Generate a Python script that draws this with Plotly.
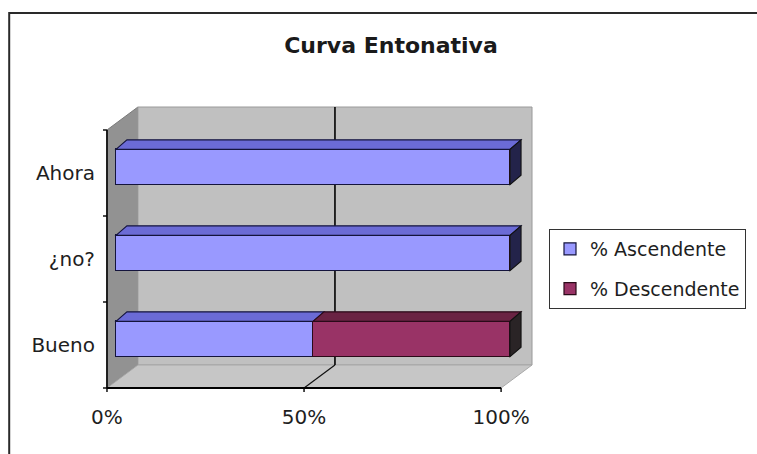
import plotly.graph_objects as go

# ---------------- data ----------------
categories = ["Bueno", "¿no?", "Ahora"]
ascendente = [50, 100, 100]
descendente = [50, 0, 0]
series_names = ["% Ascendente", "% Descendente"]
x_tickvals = [0, 50, 100]
x_ticktext = ["0%", "50%", "100%"]
title_text = "Curva Entonativa"

# ---------------- layout geometry (pixels) ----------------
W, H = 757, 454
L, R, T, B = 100, 540, 100, 395          # plot area
PXX = 3.95                               # px per percent
PXC = 86.0                               # px per category
BAR_X0 = 116                             # pixel of 0% on bar plane
BAR_C0 = 339                             # pixel of first category centre on bar plane
BAR_W = 0.41                             # bar thickness (category units)

# depth offsets (pixels, relative to bar front plane)
FRONT = (-9, 6)      # front plane (axes)
BACK = (22, -17)     # back wall
DEPTH = (11, -9.5)   # bar depth

def off(p):
    return p[0] / PXX, -p[1] / PXC

FX, FY = off(FRONT)
BX, BY = off(BACK)
DX, DY = off(DEPTH)

xr = [-(BAR_X0 - L) / PXX, (R - BAR_X0) / PXX]
yr = [-(B - BAR_C0) / PXC, (BAR_C0 - T) / PXC]

n = len(categories)
ylo, yhi = -0.5, n - 0.5

# normalise to percent
tot = [a + d for a, d in zip(ascendente, descendente)]
asc_p = [a / t * 100 for a, t in zip(ascendente, tot)]
des_p = [d / t * 100 for d, t in zip(descendente, tot)]

fills = {
    "asc": dict(front="#9999FF", top="#6B6BD6", end="#23234A", line="#14143C"),
    "des": dict(front="#993366", top="#6A2343", end="#2A2426", line="#2A0A18"),
}

fig = go.Figure()
fig.add_trace(go.Bar(
    y=categories, x=asc_p, orientation="h", name=series_names[0],
    marker=dict(color=fills["asc"]["front"], line=dict(color=fills["asc"]["line"], width=1.2)),
    width=BAR_W, legendgroup="a"))
fig.add_trace(go.Bar(
    y=categories, x=des_p, orientation="h", name=series_names[1],
    marker=dict(color=fills["des"]["front"], line=dict(color=fills["des"]["line"], width=1.2)),
    width=BAR_W, legendgroup="d"))

shapes = []

def poly(pts, fill, line="rgba(0,0,0,0)", lw=0, layer="below"):
    d = "M" + " L".join(f"{x:.4f},{y:.4f}" for x, y in pts) + " Z"
    shapes.append(dict(type="path", path=d, xref="x", yref="y", fillcolor=fill,
                       line=dict(color=line, width=lw), layer=layer))

def seg(p0, p1, color, lw, dash="solid", layer="below"):
    shapes.append(dict(type="line", xref="x", yref="y", x0=p0[0], y0=p0[1],
                       x1=p1[0], y1=p1[1], line=dict(color=color, width=lw, dash=dash),
                       layer=layer))

def F(x, y):
    return (x + FX, y + FY)

def Bk(x, y):
    return (x + BX, y + BY)

# walls
poly([F(0, ylo), F(0, yhi), Bk(0, yhi), Bk(0, ylo)], "#929292", "#7a7a7a", 1)   # left wall
poly([Bk(0, ylo), Bk(100, ylo), Bk(100, yhi), Bk(0, yhi)], "#C0C0C0", "#9a9a9a", 1)  # back wall
poly([F(0, ylo), F(100, ylo), Bk(100, ylo), Bk(0, ylo)], "#C6C6C6", "#a8a8a8", 1)    # floor

# gridline at 50 %
seg(Bk(50, ylo), Bk(50, yhi), "#000000", 1.6)
seg(F(50, ylo), Bk(50, ylo), "#111111", 1.2)

# front axes lines and ticks
seg(F(0, ylo), F(0, yhi), "#000000", 1.6)
seg(F(0, ylo), F(100, ylo), "#000000", 1.8)
for k in range(n + 1):
    yy = ylo + k
    seg(F(0, yy), F(-4 / PXX, yy), "#000000", 1.4)
for v in x_tickvals:
    seg(F(v, ylo), F(v, ylo - 4 / PXC), "#000000", 1.4)

# 3-D faces of the bars
for i in range(n):
    segs = [(0, asc_p[i], "asc"), (asc_p[i], asc_p[i] + des_p[i], "des")]
    segs = [s for s in segs if s[1] - s[0] > 0]
    top = i + BAR_W / 2
    bot = i - BAR_W / 2
    for x0, x1, key in segs:
        poly([(x0, top), (x1, top), (x1 + DX, top + DY), (x0 + DX, top + DY)],
             fills[key]["top"], fills[key]["line"], 1.1, layer="above")
    x0, x1, key = segs[-1]
    poly([(x1, bot), (x1, top), (x1 + DX, top + DY), (x1 + DX, bot + DY)],
         fills[key]["end"], "#111111", 1.1, layer="above")

# outer chart border
def pxp(px, py):
    return (px - L) / (R - L), (B - py) / (B - T)

bx0, by0 = pxp(9, 13)
bx1, by1 = pxp(820, 520)
shapes.append(dict(type="rect", xref="paper", yref="paper", x0=bx0, y0=by1, x1=bx1, y1=by0,
                   line=dict(color="#2a2a2a", width=2), fillcolor="rgba(0,0,0,0)", layer="above"))

lgx, lgy = pxp(549, 269)

fig.update_layout(
    width=W, height=H,
    margin=dict(l=L, r=W - R, t=T, b=H - B, pad=0),
    paper_bgcolor="white", plot_bgcolor="rgba(0,0,0,0)",
    barmode="stack",
    bargap=0,
    shapes=shapes,
    title=dict(text=f"<b>{title_text}</b>", x=391 / W, xref="container", xanchor="center",
               y=1 - 45 / H, yref="container", yanchor="middle",
               font=dict(family="DejaVu Sans", size=22, color="#1a1a1a")),
    font=dict(family="DejaVu Sans", size=20, color="#1e1e1e"),
    xaxis=dict(range=xr, showgrid=False, zeroline=False, showline=False, ticks="",
               tickvals=x_tickvals, ticktext=x_ticktext, ticklabelshift=-9,
               ticklabelstandoff=8, fixedrange=True),
    yaxis=dict(range=yr, type="category", categoryorder="array", categoryarray=categories,
               showgrid=False, zeroline=False, showline=False, ticks="",
               ticklabelshift=6, ticklabelstandoff=4, fixedrange=True),
    legend=dict(x=lgx, y=lgy, xanchor="left", yanchor="middle",
                bordercolor="#333333", borderwidth=1, bgcolor="white",
                font=dict(family="DejaVu Sans", size=19, color="#1e1e1e"),
                traceorder="grouped", tracegroupgap=12, itemwidth=30),
    showlegend=True,
)

fig.write_html("out.html")
